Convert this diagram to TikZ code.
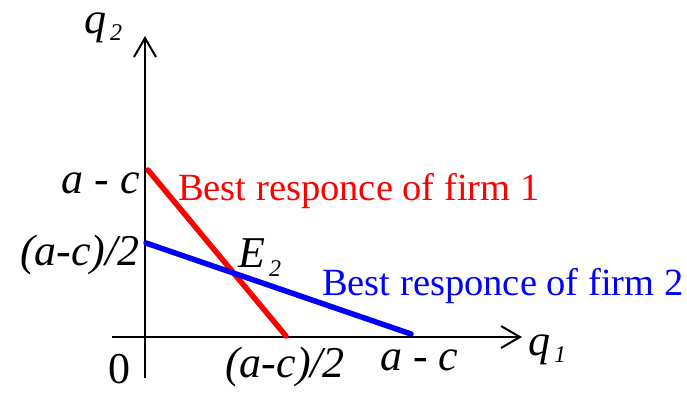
\documentclass[tikz,border=0pt]{standalone}
\usepackage{fontspec}
\setmainfont{Liberation Serif}
\usetikzlibrary{arrows.meta}
\newcommand{\mysub}[1]{\raisebox{-7pt}{\fontsize{24}{24}\selectfont\,#1}}
\begin{document}
\begin{tikzpicture}[x=1pt,y=-1pt,
  axis/.style={line width=2pt,-{Straight Barb[length=19pt,width=22pt,line width=2pt]}},
  lbl/.style={inner sep=0pt,font=\fontsize{44}{44}\selectfont\itshape},
  txt/.style={inner sep=0pt,font=\fontsize{38.5}{38.5}\selectfont},
  br/.style={line width=5.5pt,line cap=round}]
\useasboundingbox (0,0) rectangle (687,392);
\coordinate (ybot) at (145,378);
\coordinate (ytop) at (145,36);
\coordinate (xleft) at (112,337);
\coordinate (xright) at (522,337);
\coordinate (r1) at (148,170);
\coordinate (r2) at (286,336);
\coordinate (b1) at (146,243);
\coordinate (b2) at (411,334);
\draw[axis] (ybot) -- (ytop);
\draw[axis] (xleft) -- (xright);
\draw[br,red] (r1) -- (r2);
\draw[br,blue] (b1) -- (b2);
\node[lbl,anchor=base west] (q2) at (84,33) {q\mysub{2}};
\node[lbl,anchor=base west] (q1) at (528,355) {q\mysub{1}};
\node[lbl,anchor=base east] (ac) at (140,193) {a - c};
\node[lbl,anchor=base east] (ac2) at (140,265) {(a-c)/2};
\node[lbl,anchor=base west] (E) at (238,267) {E\raisebox{-9pt}{\fontsize{24}{24}\selectfont\,2}};
\node[txt,red,anchor=base west] (t1) at (178,200) {Best responce of firm 1};
\node[txt,blue,anchor=base west] (t2) at (322,295) {Best responce of firm 2};
\node[lbl,anchor=base west] (bac2) at (225,377) {(a-c)/2};
\node[lbl,anchor=base west] (bac) at (380,370) {a - c};
\node[inner sep=0pt,font=\fontsize{44}{44}\selectfont,anchor=base west] (zero) at (108,383) {0};
\end{tikzpicture}
\end{document}
